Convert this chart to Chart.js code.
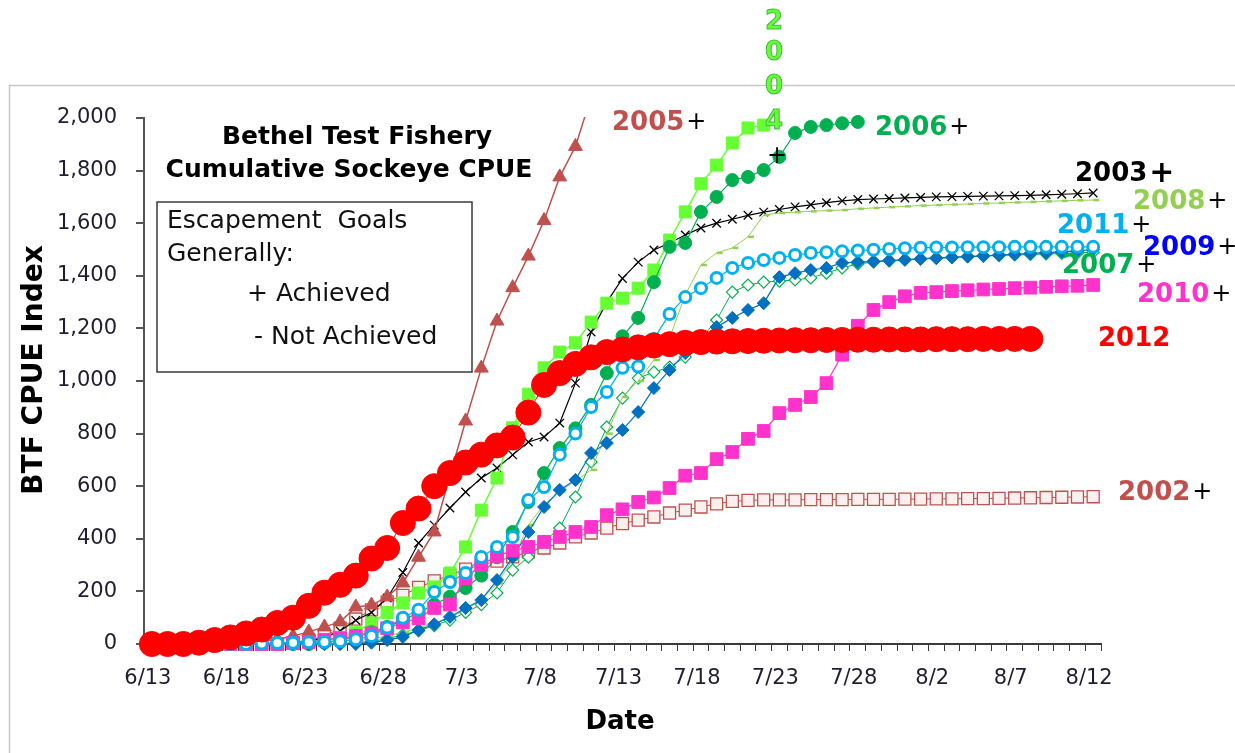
<!DOCTYPE html>
<html><head><meta charset="utf-8">
<script src="https://cdn.jsdelivr.net/npm/chart.js@4.4.1/dist/chart.umd.min.js"></script>
<style>html,body{margin:0;padding:0;background:#fff;overflow:hidden}canvas{display:block}</style>
</head><body>
<canvas id="c" width="1235" height="753"></canvas>
<script>
const dates = ['6/13','6/14','6/15','6/16','6/17','6/18','6/19','6/20','6/21','6/22','6/23','6/24','6/25','6/26','6/27','6/28','6/29','6/30',
'7/1','7/2','7/3','7/4','7/5','7/6','7/7','7/8','7/9','7/10','7/11','7/12','7/13','7/14','7/15','7/16','7/17','7/18','7/19','7/20','7/21','7/22','7/23','7/24','7/25','7/26','7/27','7/28','7/29','7/30','7/31',
'8/1','8/2','8/3','8/4','8/5','8/6','8/7','8/8','8/9','8/10','8/11','8/12'];
const yTicks = [0,200,400,600,800,1000,1200,1400,1600,1800,2000];

const y2002 = [0,0,0,0,0,0,0,0,0,5, 15,30,60,95,130,160,185,215,240,262, 285,300,315,331,350,365,384,407,422,441, 458,471,483,498,509,521,533,542,546,548, 548,548,549,549,549,550,550,550,551,551, 552,552,553,553,554,555,556,557,558,559, 560];
const y2003 = [0,0,0,0,0,0,0,0,0,3, 10,25,50,90,120,175,272,384,452,517, 578,631,669,719,768,787,840,992,1186,1300, 1390,1452,1498,1525,1555,1582,1600,1615,1630,1642, 1652,1662,1670,1678,1685,1690,1692,1694,1696,1698, 1700,1701,1702,1703,1704,1705,1706,1708,1710,1712, 1715];
const y2004 = [0,0,0,0,0,0,0,0,0,3, 8,15,25,45,80,120,156,194,217,270, 369,509,631,822,950,1050,1110,1145,1224,1296, 1315,1353,1422,1536,1643,1750,1821,1905,1962,1973, null,null,null,null,null,null,null,null,null,null, null,null,null,null,null,null,null,null,null,null, null];
const y2005 = [0,0,0,0,0,3,6,10,18,30, 46,65,84,141,148,179,232,330,426,640, 848,1049,1228,1355,1475,1610,1776,1892,2080,null, null,null,null,null,null,null,null,null,null,null, null,null,null,null,null,null,null,null,null,null, null,null,null,null,null,null,null,null,null,null, null];
const y2006 = [0,0,0,0,0,0,0,0,0,0, 0,5,15,30,45,65,90,120,150,180, 213,260,330,426,540,650,745,820,909,1030, 1170,1240,1376,1510,1525,1643,1700,1764,1776,1802, 1852,1943,1966,1973,1980,1985,null,null,null,null, null,null,null,null,null,null,null,null,null,null, null];
const y2007 = [0,0,0,0,0,0,0,0,0,0, 0,0,0,5,10,20,35,50,70,91, 120,150,194,281,330,390,441,559,692,825, 935,1011,1034,1053,1091,1160,1232,1338,1365,1376, 1380,1384,1392,1410,1430,1445,1452,1457,1461,1465, 1468,1471,1473,1475,1477,1479,1481,1483,1485,1487, 1490];
const y2008 = [0,0,0,0,0,0,0,0,0,0, 0,0,0,10,20,30,45,60,80,100, 130,170,230,320,452,530,580,620,662,800, 939,1000,1080,1163,1327,1441,1487,1506,1548,1631, 1639,1642,1645,1648,1650,1655,1658,1661,1664,1667, 1669,1671,1673,1675,1677,1679,1681,1683,1685,1687, 1688];
const y2009 = [0,0,0,0,0,0,0,0,0,0, 0,0,0,0,5,15,27,53,75,103, 137,167,243,330,426,521,586,624,726,764, 814,882,973,1042,1106,1160,1205,1240,1270,1296, 1395,1410,1422,1430,1449,1452,1455,1458,1461,1464, 1467,1470,1473,1476,1479,1482,1485,1488,1491,1495, 1500];
const y2010 = [0,0,0,0,0,0,0,0,0,3, 8,15,22,30,40,60,82,97,137,150, 250,300,335,355,369,388,407,426,445,490, 512,540,557,593,640,650,703,730,780,810, 878,909,939,992,1100,1210,1270,1300,1322,1335, 1338,1342,1345,1348,1350,1353,1355,1358,1360,1362, 1365];
const y2011 = [0,0,0,0,0,0,0,2,4,5, 7,8,10,18,30,63,100,130,198,236, 270,331,369,407,548,597,720,800,901,958, 1050,1055,1160,1255,1319,1353,1392,1430,1449,1460, 1468,1479,1487,1490,1493,1496,1499,1502,1505,1507, 1508,1508,1509,1509,1509,1510,1510,1510,1510,1510, 1510];
const y2012 = [0,0,0,5,15,25,40,55,80,100, 145,195,225,260,325,365,460,515,600,650, 690,720,755,785,880,985,1030,1065,1090,1110, 1120,1128,1135,1140,1145,1148,1150,1151,1152,1153, 1154,1155,1155,1156,1156,1157,1157,1158,1158,1158, 1159,1159,1159,1160,1160,1160,1160,null,null,null, null];

const FONT = 'DejaVu Sans';
function ds(label, data, o) {
  return Object.assign({label, data, tension: 0, spanGaps: false, clip: false,
    pointBorderWidth: 1, borderWidth: 1.2}, o);
}
const datasets = [
  ds('2002', y2002, {order:10, borderColor:'#C0504D', borderWidth:1, pointStyle:'rect', pointRadius:8.5, pointBackgroundColor:'#FBF0F0', pointBorderColor:'#C0504D', pointBorderWidth:1.3}),
  ds('2003', y2003, {order:9, borderColor:'#000000', borderWidth:1.2, pointStyle:'crossRot', pointRadius:6, pointBorderColor:'#000000', pointBorderWidth:1.3}),
  ds('2004', y2004, {order:8, borderColor:'#66FF33', borderWidth:1.5, pointStyle:'rect', pointRadius:8.5, pointBackgroundColor:'#66FF33', pointBorderColor:'#66FF33'}),
  ds('2005', y2005, {order:7, clip:1, borderColor:'#C0504D', borderWidth:1.5, pointStyle:'triangle', pointRadius:8, pointBackgroundColor:'#C0504D', pointBorderColor:'#C0504D'}),
  ds('2006', y2006, {order:6, borderColor:'#00B050', borderWidth:1.2, pointStyle:'circle', pointRadius:6.5, pointBackgroundColor:'#00B050', pointBorderColor:'#00B050'}),
  ds('2007', y2007, {order:5, borderColor:'#00B050', borderWidth:1, pointStyle:'rectRot', pointRadius:6, pointBackgroundColor:'#ffffff', pointBorderColor:'#00B050', pointBorderWidth:1.2}),
  ds('2008', y2008, {order:4, borderColor:'#92D050', borderWidth:1, pointStyle:'dash', pointRadius:6, pointBorderColor:'#92D050', pointBorderWidth:2.5}),
  ds('2009', y2009, {order:3, borderColor:'#0070C0', borderWidth:1.2, pointStyle:'rectRot', pointRadius:6.5, pointBackgroundColor:'#0070C0', pointBorderColor:'#0070C0'}),
  ds('2010', y2010, {order:2, borderColor:'#FF33CC', borderWidth:1.2, pointStyle:'rect', pointRadius:9, pointBackgroundColor:'#FF33CC', pointBorderColor:'#FF33CC'}),
  ds('2011', y2011, {order:1, borderColor:'#00B0F0', borderWidth:1.2, pointStyle:'circle', pointRadius:5.5, pointBackgroundColor:'#ffffff', pointBorderColor:'#00B0F0', pointBorderWidth:3}),
  ds('2012', y2012, {order:0, borderColor:'#FF0000', borderWidth:1, pointStyle:'circle', pointRadius:12.5, pointBackgroundColor:'#FF0000', pointBorderColor:'#FF0000'})
];

const seriesLabels = [
  {t:'2005', c:'#C0504D', x:612, y:123, plus:true},
  {t:'2006', c:'#00B050', x:875, y:128, plus:true},
  {t:'2003', c:'#000000', x:1075, y:174, plus:true, bigPlus:true},
  {t:'2008', c:'#92D050', x:1133, y:202, plus:true},
  {t:'2011', c:'#00B0F0', x:1057, y:226, plus:true},
  {t:'2009', c:'#0000FF', x:1143, y:248, plus:true},
  {t:'2007', c:'#00B050', x:1062, y:266, plus:true},
  {t:'2010', c:'#FF33CC', x:1137, y:295, plus:true},
  {t:'2012', c:'#FF0000', x:1098, y:339, plus:false},
  {t:'2002', c:'#C0504D', x:1118, y:493, plus:true}
];

const deco = {
  id: 'deco',
  beforeDraw(chart) {
    const ctx = chart.ctx;
    ctx.save();
    ctx.fillStyle = '#fff';
    ctx.fillRect(0, 0, chart.width, chart.height);
    ctx.strokeStyle = '#C8C8C8';
    ctx.lineWidth = 1.5;
    ctx.beginPath();
    ctx.moveTo(9.5, 753); ctx.lineTo(9.5, 85.5); ctx.lineTo(1235, 85.5);
    ctx.stroke();
    ctx.restore();
  },
  afterDraw(chart) {
    const ctx = chart.ctx;
    ctx.save();
    ctx.fillStyle = '#000';
    ctx.textAlign = 'center';
    ctx.textBaseline = 'middle';
    ctx.font = 'bold 25px "' + FONT + '"';
    ctx.fillText('Bethel Test Fishery', 357, 137);
    ctx.fillText('Cumulative Sockeye CPUE', 349, 170);
    ctx.fillStyle = '#fff';
    ctx.fillRect(157, 202, 315, 170);
    ctx.strokeStyle = '#3a3a3a';
    ctx.lineWidth = 1.5;
    ctx.strokeRect(157, 202, 315, 170);
    ctx.fillStyle = '#111';
    ctx.textAlign = 'left';
    ctx.font = '25px "' + FONT + '"';
    ctx.fillText('Escapement  Goals', 167, 221);
    ctx.fillText('Generally:', 167, 254);
    ctx.fillText('+ Achieved', 247, 294);
    ctx.fillText('- Not Achieved', 254, 337);
    seriesLabels.forEach(l => {
      ctx.font = 'bold 26px "' + FONT + '"';
      ctx.fillStyle = l.c;
      ctx.fillText(l.t, l.x, l.y);
      const w = ctx.measureText(l.t).width;
      if (l.plus) {
        ctx.fillStyle = '#000';
        ctx.font = (l.bigPlus ? 'bold 30px "' : '24px "') + FONT + '"';
        ctx.fillText('+', l.x + w + 2, l.y);
      }
    });
    ctx.textAlign = 'center';
    ctx.font = 'bold 26px "' + FONT + '"';
    ctx.lineWidth = 1;
    ctx.strokeStyle = '#44BB44';
    ctx.fillStyle = '#66FF33';
    [['2',22],['0',53],['0',87],['4',122]].forEach(([ch, yy]) => {
      ctx.fillText(ch, 774, yy);
      ctx.strokeText(ch, 774, yy);
    });
    ctx.fillStyle = '#000';
    ctx.font = '24px "' + FONT + '"';
    ctx.fillText('+', 777, 157);
    ctx.font = 'bold 26px "' + FONT + '"';
    ctx.fillText('Date', 620, 722);
    ctx.translate(35, 370);
    ctx.rotate(-Math.PI / 2);
    ctx.font = 'bold 28px "' + FONT + '"';
    ctx.fillText('BTF CPUE Index', 0, 0);
    ctx.restore();
  }
};

new Chart(document.getElementById('c'), {
  type: 'line',
  data: { labels: dates, datasets },
  options: {
    responsive: false,
    animation: false,
    layout: { padding: { top: 118, right: 134, left: 0, bottom: 0 } },
    plugins: { legend: { display: false }, tooltip: { enabled: false } },
    elements: { point: { hoverRadius: 0 } },
    scales: {
      x: {
        type: 'category',
        offset: true,
        afterFit: s => { s.height = 109; },
        grid: { display: true, drawOnChartArea: false, drawTicks: true, tickLength: 7, color: '#3a3a3a', lineWidth: 1, offset: true },
        border: { display: true, color: '#3a3a3a', width: 2 },
        ticks: { autoSkip: false, maxRotation: 0, minRotation: 0, padding: 15, labelOffset: -4, color: '#1e1e30',
          font: { family: FONT, size: 21 },
          callback: (v, i) => (i % 5 === 0 ? dates[i] : '') }
      },
      y: {
        min: 0, max: 2000,
        afterFit: s => { s.width = 144; },
        afterBuildTicks: s => { s.ticks = yTicks.map(v => ({ value: v })); },
        grid: { display: true, drawOnChartArea: false, drawTicks: true, tickLength: 8, color: '#555555', lineWidth: 2 },
        border: { display: true, color: '#555555', width: 2 },
        ticks: { padding: 19, color: '#1e1e30', font: { family: FONT, size: 21 },
          callback: v => v.toLocaleString('en-US') }
      }
    }
  },
  plugins: [deco]
});
</script>
</body></html>
